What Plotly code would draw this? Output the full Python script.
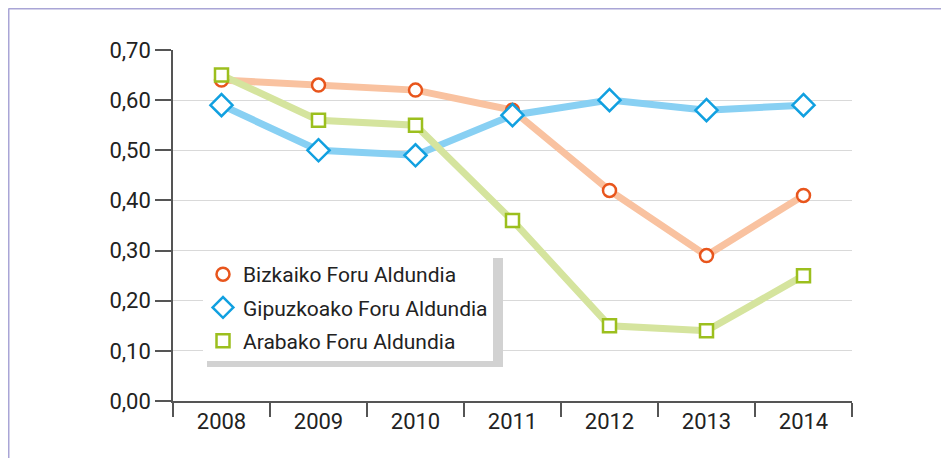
import plotly.graph_objects as go

years = ["2008", "2009", "2010", "2011", "2012", "2013", "2014"]
bizkaia = [0.64, 0.63, 0.62, 0.58, 0.42, 0.29, 0.41]
gipuzkoa = [0.59, 0.50, 0.49, 0.57, 0.60, 0.58, 0.59]
araba = [0.65, 0.56, 0.55, 0.36, 0.15, 0.14, 0.25]
names = ["Bizkaiko Foru Aldundia", "Gipuzkoako Foru Aldundia", "Arabako Foru Aldundia"]
y_ticks = [0, 0.1, 0.2, 0.3, 0.4, 0.5, 0.6, 0.7]

series = [
    (names[0], bizkaia, "#F9C2A0", "#E8551C", "circle", 13),
    (names[1], gipuzkoa, "#88D0F3", "#11A0E0", "diamond", 17),
    (names[2], araba, "#D5E49E", "#9CBF1E", "square", 13),
]

FONT = "Roboto"
fig = go.Figure()
for name, vals, lc, mc, sym, sz in series:
    fig.add_trace(go.Scatter(x=years, y=vals, mode="lines",
                             line=dict(color=lc, width=7),
                             showlegend=False, hoverinfo="skip"))
for i, (name, vals, lc, mc, sym, sz) in enumerate(series):
    fig.add_trace(go.Scatter(x=years, y=vals, mode="markers", name=name,
                             legendgroup=f"g{i}",
                             marker=dict(symbol=sym, size=sz, color="white",
                                         line=dict(color=mc, width=2.5))))

# page offset (body margin) of 8px
OFF = 8
W, H = 949 - OFF, 458 - OFF
L, R, T, B = 173 - OFF, 97, 50 - OFF, 57
pw, ph = W - L - R, H - T - B

def px_x(x):
    return (x - OFF - L) / pw

def px_y(y):
    return (H - B - (y - OFF)) / ph

shapes = [
    dict(type="line", xref="paper", yref="paper", x0=px_x(8.5), x1=px_x(949), y0=px_y(8.5), y1=px_y(8.5),
         line=dict(color="#A9A5D6", width=2)),
    dict(type="line", xref="paper", yref="paper", x0=px_x(8.5), x1=px_x(8.5), y0=px_y(8.5), y1=px_y(458),
         line=dict(color="#A9A5D6", width=2)),
    # legend shadow
    dict(type="rect", xref="paper", yref="paper", x0=px_x(207), x1=px_x(503), y0=px_y(258), y1=px_y(367),
         fillcolor="#d2d2d2", line=dict(width=0), layer="above"),
]

fig.update_layout(
    width=W, height=H,
    margin=dict(l=L, r=R, t=T, b=B),
    paper_bgcolor="white", plot_bgcolor="white",
    separators=", ",
    font=dict(family=FONT, size=21, color="#222222"),
    showlegend=True,
    legend=dict(x=px_x(203), y=px_y(254), xanchor="left", yanchor="top",
                bgcolor="white", borderwidth=0,
                font=dict(family=FONT, size=21, color="#222222"),
                tracegroupgap=3, itemwidth=30),
    xaxis=dict(type="category", range=[-0.5, 6.5], showgrid=False,
               showline=True, linecolor="#555555", linewidth=1.5,
               ticks="outside", ticklen=14, tickcolor="#555555", tickwidth=1.5,
               tickson="boundaries", tickfont=dict(size=22, family=FONT, color="#222222"),
               zeroline=False),
    yaxis=dict(range=[0, 0.7], tickvals=y_ticks, tickformat=".2f",
               showgrid=True, gridcolor="#D9D9D9", gridwidth=1,
               showline=True, linecolor="#555555", linewidth=1.5,
               ticks="outside", ticklen=16, tickcolor="#555555", tickwidth=1.5,
               tickfont=dict(size=22, family=FONT, color="#222222"),
               zeroline=False),
    shapes=shapes,
)

fig.write_html("out.html")
